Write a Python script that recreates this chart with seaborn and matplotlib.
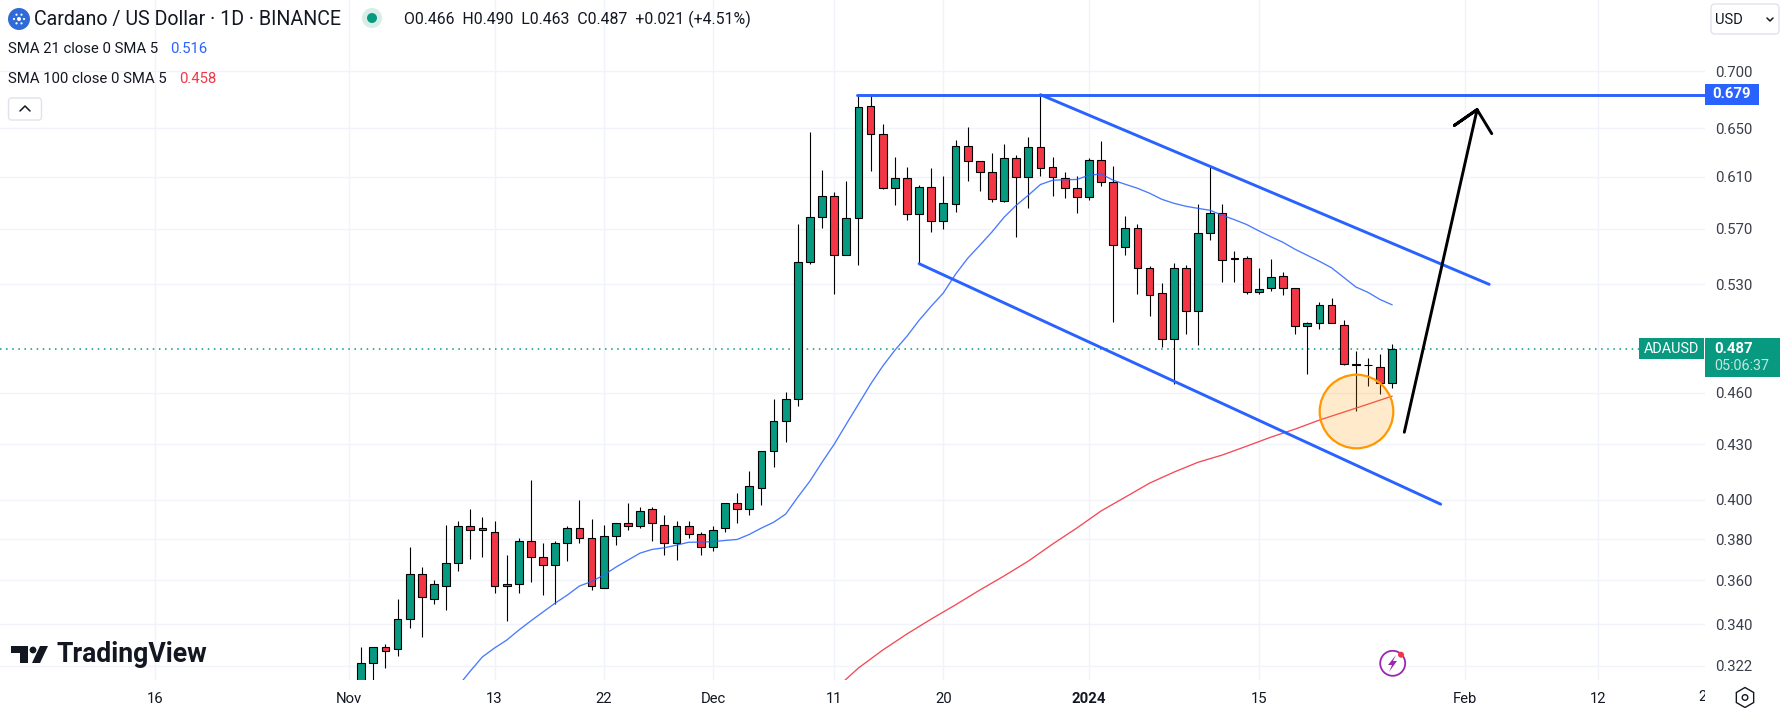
"""
Cardano / US Dollar daily candles with SMA 21, SMA 100 and the channel drawings.
"""
import numpy as np
import pandas as pd
import matplotlib
matplotlib.use('Agg')
import matplotlib.pyplot as plt
import matplotlib.dates as mdates
from matplotlib.patches import Rectangle, Circle, Polygon, FancyBboxPatch, RegularPolygon
from matplotlib.ticker import NullLocator
from matplotlib.transforms import Bbox
import seaborn as sns

# ─── Candles, 2023-11-02 to 2024-01-26 ────────────────────────────────────────
opens = [
    .3140, .3231, .3299, .3290, .3422, .3629, .3512, .3572, .3681, .3863, .3853, .3834, .3572, .3582, .3789,
    .3710, .3671, .3779, .3853, .3803, .3563, .3813, .3879, .3863, .3951, .3869, .3779, .3863, .3823,
    .3759, .3853, .3981, .3951, .4060, .4261, .4431, .4560, .5460, .5791, .5951, .5510, .5783, .6694, .6447,
    .6014, .6086, .5813, .6022, .5761, .5889, .6353, .6230, .6134, .5913, .6254, .6094, .6345, .6174, .6086,
    .6014,
    .5944, .6238, .6062, .5568, .5707, .5417, .5243, .4938, .5417, .5122, .5664, .5820, .5488, .5488, .5250,
    .5278, .5361, .5278, .5022, .5042, .5162, .5029, .4779, .4773, .4760, .4660,
]
highs = [
    .3300, .3299, .3313, .3512, .3759, .3662, .3601, .3870, .3889, .3951, .3909, .3889, .3720, .3803, .4103,
    .3779, .3790, .3863, .4001, .3899, .3868, .3879, .3981, .3962, .3962, .3919, .3890, .3890, .3834,
    .3863, .3981, .4033, .4152, .4261, .4560, .4602, .5734, .6470, .6150, .5983, .6070, .6790, .6798, .6534,
    .6262, .6181, .6038, .6173, .6102, .6403, .6512, .6230, .6295, .6363, .6279, .6428, .6791, .6262, .6134,
    .6102,
    .6254, .6394, .6189, .5798, .5731, .5431, .5312, .5452, .5438, .5889, .6178, .5889, .5539, .5503, .5417,
    .5481, .5389, .5278, .5048, .5182, .5209, .5062, .4861, .4811, .4842, .4900,
]
lows = [
    .3100, .3120, .3212, .3263, .3384, .3345, .3492, .3465, .3646, .3703, .3713, .3543, .3416, .3543, .3594,
    .3533, .3492, .3694, .3782, .3554, .3563, .3772, .3847, .3857, .3792, .3723, .3697, .3803, .3723,
    .3743, .3836, .3882, .3923, .3974, .4177, .4315, .4522, .5445, .5705, .5234, .5510, .5435, .6146, .6003,
    .5880, .5765, .5445, .5675, .5698, .5825, .6066, .5987, .5902, .5902, .5638, .5856, .6104, .5948, .5933,
    .5818,
    .5920, .6030, .5046, .5507, .5237, .5086, .4884, .4656, .4968, .4897, .5616, .5316, .5316, .5237, .5237,
    .5257, .5230, .4970, .4715, .4997, .5036, .4767, .4489, .4642, .4594, .4630,
]
closes = [
    .3231, .3299, .3281, .3422, .3629, .3521, .3582, .3681, .3863, .3844, .3844, .3572, .3582, .3789, .3710,
    .3671, .3779, .3853, .3803, .3572, .3813, .3879, .3863, .3940, .3879, .3779, .3863, .3823, .3759,
    .3844, .3981, .3951, .4071, .4261, .4431, .4560, .5460, .5791, .5951, .5510, .5783, .6685, .6447, .6014,
    .6086, .5813, .6022, .5761, .5898, .6353, .6230, .6134, .5928, .6254, .6094, .6345, .6166, .6094, .6014,
    .5944,
    .6238, .6062, .5582, .5707, .5417, .5230, .4938, .5417, .5122, .5664, .5820, .5474, .5481, .5250, .5271,
    .5354, .5278, .5022, .5042, .5162, .5042, .4779, .4773, .4769, .4660, .4870,
]

# ─── Moving averages ──────────────────────────────────────────────────────────
sma21 = [
    .3136, .3198, .3258, .3296, .3330, .3374, .3415, .3455, .3495, .3532, .3574, .3595, .3625, .3663, .3697,
    .3731, .3749, .3757, .3770, .3784, .3785,
    .3787, .3793, .3798, .3823, .3855, .3884, .3926, .4014, .4099, .4201, .4301, .4416, .4532, .4652, .4763,
    .4863, .4953, .5057, .5151, .5241, .5370, .5483, .5577, .5675, .5785, .5876, .5954, .6038, .6072, .6076,
    .6078,
    .6112, .6122, .6072, .6040, .6009, .5970, .5923, .5892, .5869, .5853, .5838, .5800, .5767, .5731, .5684,
    .5640, .5599, .5548, .5505, .5462, .5416, .5349, .5282, .5245, .5196, .5160,
]
sma100_dates = [
    '2023-12-11', '2023-12-13', '2023-12-15', '2023-12-17', '2023-12-19', '2023-12-21', '2023-12-23',
    '2023-12-25', '2023-12-27', '2023-12-29', '2023-12-31', '2024-01-02', '2024-01-04', '2024-01-06',
    '2024-01-08', '2024-01-10', '2024-01-12', '2024-01-14', '2024-01-16', '2024-01-18', '2024-01-20',
    '2024-01-22', '2024-01-24', '2024-01-26',
]
sma100 = [
    .3120, .3211, .3287, .3357, .3423, .3487, .3555, .3621, .3692, .3775, .3855, .3942, .4014, .4088, .4147,
    .4201, .4241, .4290, .4341, .4387, .4439, .4485, .4532, .4580,
]

# ─── Drawings on the chart ────────────────────────────────────────────────────
level_dates = ['2023-12-12 22:00', '2024-02-21 00:00']
level_prices = [.679, .679]
upper_dates = ['2023-12-28 00:00', '2024-02-03 00:00']
upper_prices = [.679, .530]
lower_dates = ['2023-12-18 00:00', '2024-01-30 00:00']
lower_prices = [.5445, .3977]
arrow_dates = ['2024-01-27 00:00', '2024-02-02 00:00', '2024-01-31 03:00', '2024-02-02 00:00', '2024-02-03 05:00']
arrow_prices = [.4369, .6659, .6523, .6659, .6453]
circle_date = '2024-01-23'
circle_price = .4489

# ─── Axis ticks ───────────────────────────────────────────────────────────────
y_ticks = [.700, .650, .610, .570, .530, .460, .430, .400, .380, .360, .340, .322]
x_tick_dates = ['2023-10-16', '2023-11-01', '2023-11-13', '2023-11-22', '2023-12-01', '2023-12-11',
                '2023-12-20', '2024-01-01', '2024-01-15', '2024-02-01', '2024-02-12']
x_tick_labels = ['16', 'Nov', '13', '22', 'Dec', '11', '20', '2024', '15', 'Feb', '12']
last_price = .487

W, H = 1781, 708
BLUE = '#2962FF'
RED = '#F23645'
GREEN = '#089981'
INK = '#131722'
GRID = '#F0F3FA'

sns.set_theme(style='white')
plt.rcParams['font.family'] = ['Roboto', 'DejaVu Sans']

fig = plt.figure(figsize=(W / 100, H / 100), dpi=100, facecolor='white')
ax = fig.add_axes([0, 28 / H, 1705 / W, 680 / H], facecolor='white')

dates = pd.date_range('2023-11-02', periods=len(closes))
x_num = mdates.date2num(dates)
opens_a, closes_a = np.array(opens), np.array(closes)
colors = [GREEN if c >= o else RED for o, c in zip(opens, closes)]

ax.set_yscale('log')
ax.axhline(last_price, color=GREEN, lw=1.1, ls=(0, (1, 3)), zorder=1)

# candles
ax.vlines(dates, lows, highs, color='black', lw=0.8, zorder=2)
ax.bar(x_num, closes_a - opens_a, bottom=opens_a, width=0.64, color=colors,
       edgecolor='black', linewidth=0.8, zorder=3)

# moving averages
sns.lineplot(x=dates[len(dates) - len(sma21):], y=sma21, ax=ax, color=BLUE, lw=0.95, alpha=0.85, zorder=4)
sns.lineplot(x=pd.to_datetime(sma100_dates), y=sma100, ax=ax, color=RED, lw=0.95, alpha=0.9, zorder=4)

# drawings
for d, p in [(level_dates, level_prices), (upper_dates, upper_prices), (lower_dates, lower_prices)]:
    sns.lineplot(x=pd.to_datetime(d), y=p, ax=ax, color=BLUE, lw=2.1, sort=False, estimator=None, zorder=5)
sns.lineplot(x=pd.to_datetime(arrow_dates), y=arrow_prices, ax=ax, color='black', lw=2.1, sort=False,
             estimator=None, zorder=5)
ax.plot([mdates.date2num(pd.Timestamp(circle_date))], [circle_price], 'o', ms=53,
        mfc=(1.0, 0.6, 0.0, 0.2), mec='#FF9800', mew=1.6, zorder=6)

# axes
ax.set_xlim(mdates.date2num(pd.Timestamp('2023-11-01')) - 349 / 12.13,
            mdates.date2num(pd.Timestamp('2023-11-01')) + (1705 - 349) / 12.13)
ax.set_ylim(.3161, .7684)
ax.yaxis.tick_right()
ax.set_yticks(y_ticks)
ax.set_yticklabels([f'{v:.3f}' for v in y_ticks])
ax.yaxis.set_minor_locator(NullLocator())
ax.set_xticks(mdates.date2num(pd.to_datetime(x_tick_dates)))
ax.set_xticklabels(x_tick_labels)
ax.xaxis.set_minor_locator(NullLocator())
ax.tick_params(axis='y', length=0, pad=7, labelsize=10.7, labelcolor='#3a3e4a')
ax.tick_params(axis='x', length=0, pad=8.5, labelsize=10.7, labelcolor=INK)
for lbl in ax.get_xticklabels():
    if lbl.get_text() == '2024':
        lbl.set_fontweight('bold')
ax.grid(True, color=GRID, lw=1)
ax.set_axisbelow(True)
ax.set_xlabel('')
ax.set_ylabel('')
for s in ax.spines.values():
    s.set_visible(False)
leg = ax.get_legend()
if leg:
    leg.remove()


def fx(x):
    return x / W


def fy(y):
    return 1 - y / H


def put(x, y, s, **kw):
    kw.setdefault('color', INK)
    kw.setdefault('va', 'center')
    return fig.text(fx(x), fy(y), s, **kw)


def rect(x0, y0, x1, y1, color):
    fig.add_artist(Rectangle((fx(x0), fy(y1)), fx(x1 - x0), (y1 - y0) / H, color=color, lw=0,
                             transform=fig.transFigure, zorder=8))


def poly(pts, color, **kw):
    fig.add_artist(Polygon([(fx(a), fy(b)) for a, b in pts], closed=True, color=color, lw=0,
                           transform=fig.transFigure, zorder=9, **kw))


def disc(x, y, r, **kw):
    # figure pixels, so it stays round
    fig.add_artist(Circle((x, H - y), r, transform=None, zorder=9, **kw))


# header
disc(19, 19, 11, color='#2F6BD8', lw=0)
for a in np.arange(0, 2 * np.pi, np.pi / 3):
    disc(19 + 5 * np.cos(a), 19 + 5 * np.sin(a), 1.1, color='white', lw=0)
disc(19, 19, 2, color='white', lw=0)
put(34, 19, 'Cardano / US Dollar · 1D · BINANCE', fontsize=14.1)
disc(372, 18, 10, color='#D7EDE8', lw=0)
disc(372, 18, 5, color=GREEN, lw=0)
put(404, 19, 'O0.466  H0.490  L0.463  C0.487  +0.021 (+4.51%)', fontsize=11.4)
put(8, 49, 'SMA 21 close 0 SMA 5', fontsize=10.7)
put(170, 49, '0.516', fontsize=10.7, color=BLUE)
put(8, 79, 'SMA 100 close 0 SMA 5', fontsize=10.7)
put(179, 79, '0.458', fontsize=10.7, color=RED)
fig.add_artist(FancyBboxPatch((8.5, H - 120), 33, 22, boxstyle='round,pad=0,rounding_size=3', fc='white',
                              ec='#E0E3EB', lw=1, transform=None, zorder=9))
fig.add_artist(plt.Line2D([20, 25, 30], [H - 111, H - 106, H - 111], color=INK, lw=1.1, transform=None, zorder=10))

# price tags
rect(1705, 84, 1759, 105, BLUE)
put(1732, 94.5, '0.679', color='white', fontsize=10.7, fontweight='bold', ha='center', zorder=10)
rect(1639, 338, 1704, 359, GREEN)
put(1671.5, 348.5, 'ADAUSD', color='white', fontsize=10.4, ha='center', zorder=10)
rect(1705, 338, 1780, 377, GREEN)
put(1733.5, 348.5, '0.487', color='white', fontsize=10.7, fontweight='bold', ha='center', zorder=10)
put(1742, 366, '05:06:37', color='#C4E6DF', fontsize=10.4, ha='center', zorder=10)

# currency button
fig.add_artist(FancyBboxPatch((1711, H - 34), 68, 30, boxstyle='round,pad=0,rounding_size=4', fc='white',
                              ec='#E0E3EB', lw=1, transform=None, zorder=9))
put(1715, 20, 'USD', fontsize=10.6, zorder=10)
fig.add_artist(plt.Line2D([1767, 1770, 1773], [H - 18, H - 21, H - 18], color=INK, lw=1.1, transform=None, zorder=10))

# clipped last date label at the edge of the time axis
t = put(1707, 697, '21', fontsize=10.7, ha='center')
t.set_clip_box(Bbox([[0, 0], [1705, H]]))
t.set_clip_on(True)

# settings icon
fig.add_artist(RegularPolygon((1745, H - 697.5), 6, radius=10, fc='white', ec=INK, lw=1, transform=None, zorder=9))
disc(1745, 697.5, 2.8, fc='white', ec=INK, lw=1)

# TradingView mark
poly([(11, 646), (28, 646), (28, 663), (20, 663), (20, 653), (11, 653)], INK)
disc(33, 650, 3.4, color=INK, lw=0)
poly([(40, 646), (48, 646), (40, 663), (32, 663)], INK)
put(57, 655, 'TradingView', fontsize=19.2, fontweight='bold', zorder=10)

# bolt badge
fig.add_artist(Circle((1392.7, H - 663.3), 12.5, fc='white', ec='#9C27B0', lw=1.3, transform=None, zorder=9))
poly([(1396, 655), (1388, 665), (1392, 665), (1389, 672), (1397, 661), (1393, 661)], '#9C27B0')
disc(1401, 654.7, 3, color=RED, lw=0)

plt.savefig('out.png', dpi=100, facecolor='white')
plt.close()
